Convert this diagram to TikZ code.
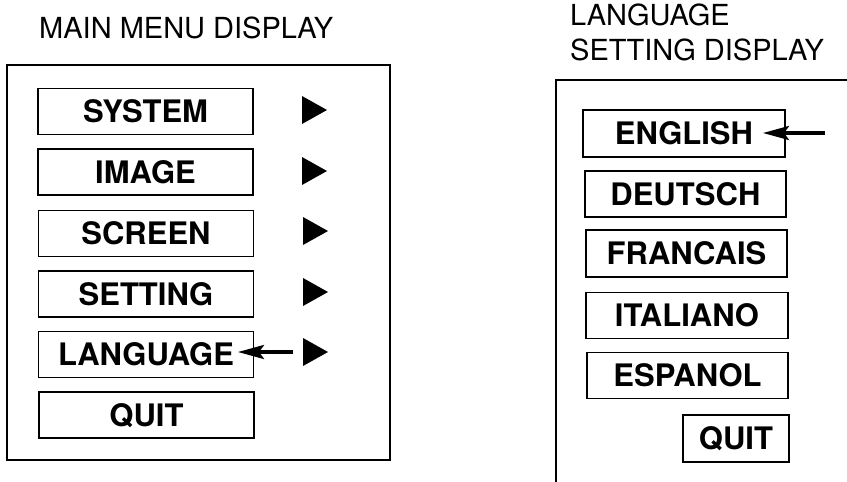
\documentclass[tikz,border=0pt]{standalone}
\usepackage{fontspec}
\setmainfont{TeX Gyre Heros}
\usetikzlibrary{arrows.meta}
\begin{document}
\begin{tikzpicture}[x=1pt,y=-1pt,
  btn/.style={draw, line width=1.8pt, inner sep=0pt, minimum height=46pt,
    font=\fontsize{31}{31}\selectfont\bfseries, text height=22pt, text depth=0pt},
  ttl/.style={anchor=base west, inner sep=0pt, font=\fontsize{29}{29}\selectfont},
  tri/.style={fill=black},
  frame/.style={line width=1.8pt},
  arr/.style={line width=3.5pt, -{Stealth[length=26pt,width=14pt,inset=5pt]}}]
\useasboundingbox (0,0) rectangle (847,482);
% titles
\node[ttl] (t1) at (39,38) {MAIN MENU DISPLAY};
\node[ttl] (t2) at (570,25) {LANGUAGE};
\node[ttl] (t3) at (570,60) {SETTING DISPLAY};
% main frame
\draw[frame] (7,65) rectangle (390,460);
% main buttons
\node[btn, minimum width=215pt] (sys) at (145.5,111.5) {SYSTEM};
\node[btn, minimum width=215pt] (img) at (145.5,172) {IMAGE};
\node[btn, minimum width=215pt] (scr) at (146,233.5) {SCREEN};
\node[btn, minimum width=215pt] (set) at (146,294) {SETTING};
\node[btn, minimum width=215pt] (lang) at (146,354.5) {LANGUAGE};
\node[btn, minimum width=215pt] (quit1) at (146.5,415) {QUIT};
% triangles
\foreach \yy/\xx [count=\i] in {110/302, 171/302, 231/303, 292/303, 352/303}{
  \fill[tri] (\xx,\yy-14) -- (\xx+25,\yy) -- (\xx,\yy+14) -- cycle;
}
\coordinate (a1s) at (293,352);
\coordinate (a1e) at (238,352);
\draw[arr] (a1s) -- (a1e);
% language frame
\draw[frame] (847,80) -- (556,80) -- (556,482);
\node[btn, minimum width=202pt, minimum height=47pt] (en) at (684,133.5) {ENGLISH};
\node[btn, minimum width=201pt] (de) at (685.5,194) {DEUTSCH};
\node[btn, minimum width=201pt, minimum height=47pt] (fr) at (686.5,253.5) {FRANCAIS};
\node[btn, minimum width=202pt] (it) at (687,315.5) {ITALIANO};
\node[btn, minimum width=201pt] (es) at (687.5,375.5) {ESPANOL};
\node[btn, minimum width=106pt, minimum height=47pt] (quit2) at (736,438.5) {QUIT};
\coordinate (a2s) at (825,133);
\coordinate (a2e) at (763,133);
\draw[arr] (a2s) -- (a2e);
\end{tikzpicture}
\end{document}
